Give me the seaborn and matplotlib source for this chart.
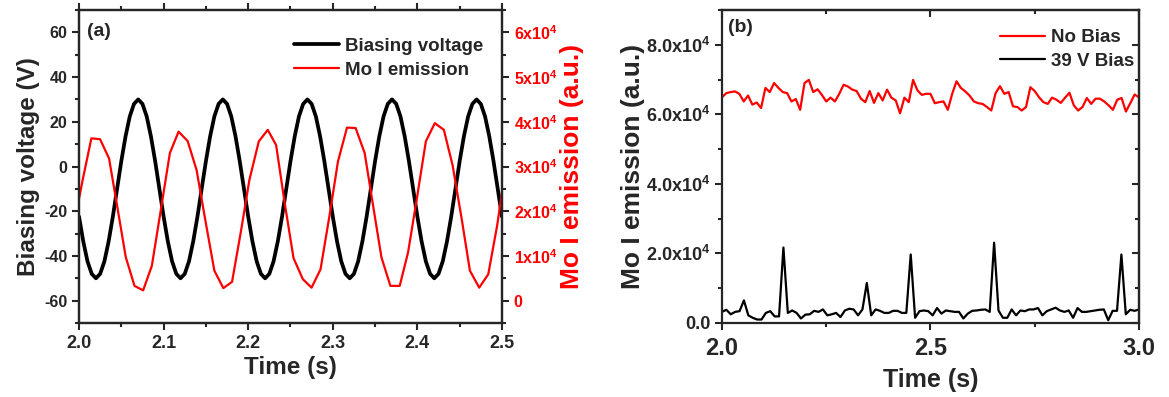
import numpy as np
import matplotlib
matplotlib.use('Agg')
from matplotlib import pyplot as plt
from matplotlib.ticker import MultipleLocator
import seaborn as sns

# (a) 偏压波形 (V), 每 0.005 s 一个点, 从 2.0 s 开始
bias_dt = 0.005
bias_v = [
    -22.4, -33.5, -42.4, -48.0, -50.0, -48.0, -42.4, -33.5, -22.4, -10.0, 2.4, 13.5, 22.4, 28.0, 30.0, 28.0, 22.4, 13.5, 2.4, -10.0,
    -22.4, -33.5, -42.4, -48.0, -50.0, -48.0, -42.4, -33.5, -22.4, -10.0, 2.4, 13.5, 22.4, 28.0, 30.0, 28.0, 22.4, 13.5, 2.4, -10.0,
    -22.4, -33.5, -42.4, -48.0, -50.0, -48.0, -42.4, -33.5, -22.4, -10.0, 2.4, 13.5, 22.4, 28.0, 30.0, 28.0, 22.4, 13.5, 2.4, -10.0,
    -22.4, -33.5, -42.4, -48.0, -50.0, -48.0, -42.4, -33.5, -22.4, -10.0, 2.4, 13.5, 22.4, 28.0, 30.0, 28.0, 22.4, 13.5, 2.4, -10.0,
    -22.4, -33.5, -42.4, -48.0, -50.0, -48.0, -42.4, -33.5, -22.4, -10.0, 2.4, 13.5, 22.4, 28.0, 30.0, 28.0, 22.4, 13.5, 2.4, -10.0,
    -22.4,
]

# (a) Mo I 发射 (x1e4 a.u.)
mo_time_a = [1.9940, 2.0043, 2.0146, 2.0249, 2.0355, 2.0454, 2.0553, 2.0656, 2.0758, 2.0861,
             2.0968, 2.1074, 2.1177, 2.1284, 2.1390, 2.1493, 2.1600, 2.1706, 2.1809, 2.1915,
             2.2014, 2.2125, 2.2231, 2.2330, 2.2430, 2.2536, 2.2646, 2.2749, 2.2855, 2.2962,
             2.3061, 2.3168, 2.3270, 2.3377, 2.3476, 2.3575, 2.3681, 2.3791, 2.3890, 2.3997,
             2.4100, 2.4206, 2.4313, 2.4416, 2.4522, 2.4621, 2.4731, 2.4838, 2.4943, 2.5045]
mo_a = [1.70, 2.70, 3.63, 3.61, 3.18, 2.08, 0.97, 0.33, 0.23, 0.78,
        2.04, 3.30, 3.78, 3.57, 2.92, 1.80, 0.67, 0.28, 0.42, 1.56,
        2.70, 3.56, 3.82, 3.48, 2.20, 0.95, 0.48, 0.29, 0.70, 1.91,
        3.11, 3.87, 3.86, 3.30, 2.13, 0.97, 0.33, 0.33, 1.08, 2.32,
        3.56, 3.97, 3.82, 3.03, 1.85, 0.67, 0.29, 0.59, 1.68, 3.00]

# (b) 2.0 - 3.0 s 等间隔采样 (x1e4 a.u.)
no_bias = [6.49, 6.61, 6.64, 6.66, 6.59, 6.37, 6.54, 6.28, 6.34, 6.18,
           6.76, 6.64, 6.90, 6.76, 6.64, 6.61, 6.37, 6.44, 6.13, 6.90,
           6.99, 6.64, 6.72, 6.56, 6.37, 6.48, 6.37, 6.59, 6.85, 6.80,
           6.71, 6.67, 6.45, 6.35, 6.67, 6.33, 6.61, 6.40, 6.71, 6.48,
           6.40, 6.03, 6.48, 6.35, 6.99, 6.69, 6.56, 6.59, 6.59,
           6.32, 6.35, 6.37, 6.13, 6.59, 6.95, 6.76, 6.66, 6.54, 6.37,
           6.32, 6.30, 6.21, 6.11, 6.61, 6.81, 6.59, 6.64, 6.23, 6.21,
           6.11, 6.21, 6.78, 6.67, 6.49, 6.35, 6.30, 6.48, 6.42, 6.33,
           6.48, 6.62, 6.26, 6.11, 6.21, 6.47, 6.30, 6.45, 6.45, 6.37,
           6.26, 6.13, 6.42, 6.47, 6.08, 6.32, 6.57, 6.49]
bias_39v = [0.32, 0.38, 0.25, 0.32, 0.34, 0.65, 0.22, 0.15, 0.10, 0.10,
            0.29, 0.34, 0.19, 0.19, 2.17, 0.29, 0.36, 0.29, 0.13, 0.24,
            0.25, 0.35, 0.32, 0.39, 0.22, 0.25, 0.29, 0.17, 0.36, 0.41,
            0.39, 0.22, 0.39, 1.15, 0.22, 0.39, 0.35, 0.29, 0.29, 0.35,
            0.35, 0.29, 0.29, 1.97, 0.15, 0.34, 0.36, 0.34,
            0.22, 0.43, 0.27, 0.36, 0.34, 0.32, 0.32, 0.13, 0.27, 0.35,
            0.36, 0.38, 0.39, 0.32, 2.31, 0.36, 0.15, 0.15, 0.39, 0.22,
            0.36, 0.34, 0.39, 0.39, 0.43, 0.22, 0.34, 0.39, 0.44, 0.36,
            0.32, 0.36, 0.15, 0.43, 0.32, 0.32, 0.34, 0.36, 0.38, 0.39,
            0.08, 0.35, 0.35, 1.97, 0.25, 0.38, 0.35, 0.39]

a_xticks = [2.0, 2.1, 2.2, 2.3, 2.4, 2.5]
a_yticks = [-60, -40, -20, 0, 20, 40, 60]
a_rticks = [0, 1e4, 2e4, 3e4, 4e4, 5e4, 6e4]
a_rlabels = ['0', '1x10$^4$', '2x10$^4$', '3x10$^4$', '4x10$^4$', '5x10$^4$', '6x10$^4$']
b_xticks = [2.0, 2.5, 3.0]
b_yticks = [0, 2e4, 4e4, 6e4, 8e4]
b_ylabels = ['0.0', '2.0x10$^4$', '4.0x10$^4$', '6.0x10$^4$', '8.0x10$^4$']

sns.set_style('ticks')
plt.rcParams['font.family'] = ['Liberation Sans', 'DejaVu Sans']
plt.rcParams['font.weight'] = 'bold'
plt.rcParams['axes.labelweight'] = 'bold'
plt.rcParams['axes.unicode_minus'] = False
plt.rcParams['mathtext.fontset'] = 'custom'
plt.rcParams['mathtext.rm'] = 'Liberation Sans:bold'
plt.rcParams['mathtext.it'] = 'Liberation Sans:bold'
plt.rcParams['mathtext.bf'] = 'Liberation Sans:bold'
plt.rcParams['axes.linewidth'] = 1.6

RED = '#ff0000'

fig = plt.figure(figsize=(11.69, 3.97), dpi=100)
ax = fig.add_axes([0.0676, 0.1864, 0.3618, 0.7884])
ax2 = ax.twinx()

# ---- (a) ----
time_a = np.round(2.0 + bias_dt * np.arange(len(bias_v)), 4)
sns.lineplot(x=time_a, y=bias_v, ax=ax, color='black', lw=2.7, label='Biasing voltage')
sns.lineplot(x=mo_time_a, y=np.array(mo_a) * 1e4, ax=ax2, color=RED, lw=1.6, label='Mo I emission')

ax.set_xlim(2.0, 2.5)
ax.set_ylim(-70, 70)
ax2.set_ylim(-5000, 65000)
ax.set_xticks(a_xticks)
ax.set_xticklabels([f'{v:.1f}' for v in a_xticks])
ax.xaxis.set_minor_locator(MultipleLocator(0.05))
ax.set_yticks(a_yticks)
ax.yaxis.set_minor_locator(MultipleLocator(10))
ax2.set_yticks(a_rticks)
ax2.set_yticklabels(a_rlabels)
ax2.yaxis.set_minor_locator(MultipleLocator(5000))
ax.tick_params(which='both', direction='out', top=True, width=1.5)
ax.tick_params(axis='x', labelsize=13)
ax.tick_params(axis='y', labelsize=11.5)
ax.tick_params(which='major', length=5)
ax.tick_params(which='minor', length=3)
ax2.tick_params(which='both', direction='out', width=1.5, labelsize=11.5, labelcolor=RED)
ax2.tick_params(which='major', length=5)
ax2.tick_params(which='minor', length=3)
ax.set_xlabel('Time (s)', fontsize=17.5, labelpad=3)
ax.set_ylabel('Biasing voltage (V)', fontsize=17.5, labelpad=3)
ax2.set_ylabel('Mo I emission (a.u.)', fontsize=19, color=RED, labelpad=2)
for s in ax2.spines.values():
    s.set_linewidth(1.6)

ax.get_legend().remove()
ax2.get_legend().remove()
h1, l1 = ax.get_legend_handles_labels()
h2, l2 = ax2.get_legend_handles_labels()
ax2.legend(h1 + h2, l1 + l2, loc='upper right', bbox_to_anchor=(1.018, 0.995),
           frameon=False, handlelength=2.4, handletextpad=0.35,
           prop={'weight': 'bold', 'size': 13.5}, borderaxespad=1.0, labelspacing=0.35)
ax.text(0.02, 0.96, '(a)', transform=ax.transAxes, ha='left', va='top', fontsize=14, fontweight='bold')

# ---- (b) ----
bx = fig.add_axes([0.6176, 0.1864, 0.3567, 0.7884])
t_nb = np.linspace(2.0, 3.0, len(no_bias))
t_39 = np.linspace(2.0, 3.0, len(bias_39v))
sns.lineplot(x=t_nb, y=np.array(no_bias) * 1e4, ax=bx, color=RED, lw=1.6, label='No Bias')
sns.lineplot(x=t_39, y=np.array(bias_39v) * 1e4, ax=bx, color='black', lw=1.6, label='39 V Bias')
bx.set_xlim(2.0, 3.0)
bx.set_ylim(0, 90000)
bx.set_xticks(b_xticks)
bx.set_xticklabels([f'{v:.1f}' for v in b_xticks])
bx.xaxis.set_minor_locator(MultipleLocator(0.25))
bx.set_yticks(b_yticks)
bx.set_yticklabels(b_ylabels)
bx.yaxis.set_minor_locator(MultipleLocator(10000))
bx.tick_params(which='both', direction='out', width=1.5)
bx.tick_params(axis='x', labelsize=17, pad=5)
bx.tick_params(axis='y', labelsize=13)
bx.tick_params(which='major', length=5)
bx.tick_params(which='minor', length=3)

top = bx.secondary_xaxis('top')
top.set_xticks(b_xticks)
top.xaxis.set_minor_locator(MultipleLocator(0.25))
top.tick_params(which='both', direction='in', labeltop=False, width=1.5)
top.tick_params(which='major', length=5)
top.tick_params(which='minor', length=3)
right = bx.secondary_yaxis('right')
right.set_yticks(b_yticks)
right.yaxis.set_minor_locator(MultipleLocator(10000))
right.tick_params(which='both', direction='in', labelright=False, width=1.5)
right.tick_params(which='major', length=5)
right.tick_params(which='minor', length=3)

bx.set_xlabel('Time (s)', fontsize=18, labelpad=6)
bx.set_ylabel('Mo I emission (a.u.)', fontsize=19, labelpad=1)
bx.legend(loc='upper right', bbox_to_anchor=(1.03, 0.993), frameon=False,
          handlelength=2.4, handletextpad=0.35,
          prop={'weight': 'bold', 'size': 13.5}, borderaxespad=0.5, labelspacing=0.35)
bx.text(0.015, 0.97, '(b)', transform=bx.transAxes, ha='left', va='top', fontsize=14, fontweight='bold')

fig.savefig('out.png', dpi=100)
